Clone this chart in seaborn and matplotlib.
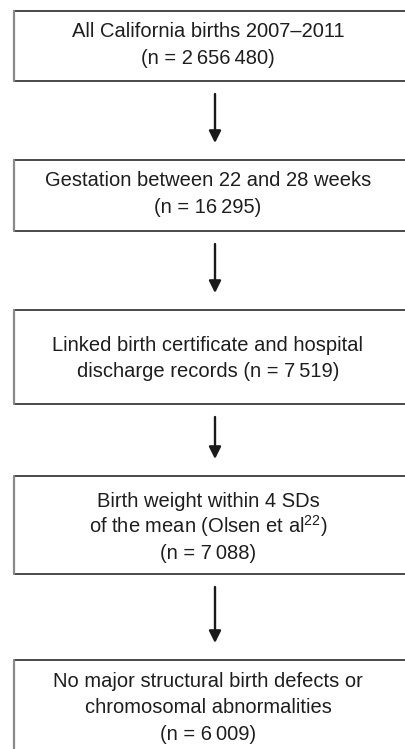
import numpy as np
import pandas as pd
import seaborn as sns
import matplotlib.pyplot as plt

# flowchart content
steps = ["All California births 2007\u20132011",
         "Gestation between 22 and 28 weeks",
         "Linked birth certificate and hospital\ndischarge records",
         "Birth weight within 4 SDs\nof the mean (Olsen et al$^{22}$)",
         "No major structural birth defects or\nchromosomal abnormalities"]
counts = [2656480, 16295, 7519, 7088, 6009]
n_inline = [False, False, True, False, False]

# layout (pixels, top-down)
box_top = [11, 160, 310, 476, 660]
box_bottom = [81, 231, 404, 574, 760]
baselines = [[37, 64], [186, 213], [351, 377], [507, 533, 559], [687, 713, 740]]
left, right, text_x, arrow_x = 14, 407, 208, 215


def fmt_n(v):
    s = "{:,}".format(v).replace(",", "\u2009")
    return "(n = {})".format(s)


sns.set_theme(style="white")
plt.rcParams["font.family"] = ["Liberation Sans", "DejaVu Sans"]
plt.rcParams["mathtext.fontset"] = "custom"
plt.rcParams["mathtext.rm"] = "Liberation Sans"
plt.rcParams["mathtext.it"] = "Liberation Sans"

fig = plt.figure(figsize=(4.05, 7.49), dpi=100)
ax = fig.add_axes([0, 0, 1, 1])
ax.set_xlim(0, 405)
ax.set_ylim(749, 0)
ax.axis("off")

for i, label in enumerate(steps):
    t, b = box_top[i], box_bottom[i]
    ax.plot([left, right], [t, t], color="#2a2a2a", lw=1.2)
    ax.plot([left, right], [b, b], color="#2a2a2a", lw=1.2)
    ax.plot([left, left], [t, b], color="#8a8a8a", lw=1.6)
    lines = label.split("\n")
    if n_inline[i]:
        lines[-1] = lines[-1] + " " + fmt_n(counts[i])
    else:
        lines.append(fmt_n(counts[i]))
    for line, y in zip(lines, baselines[i]):
        ax.text(text_x, y, line, ha="center", va="baseline", fontsize=14.5, color="#1e1e1e")
    if i < len(steps) - 1:
        ax.annotate("", xy=(arrow_x, box_top[i + 1] - 17), xytext=(arrow_x, b + 13),
                    arrowprops=dict(arrowstyle="-|>", lw=1.7, color="#1a1a1a",
                                    mutation_scale=18, shrinkA=0, shrinkB=0))

fig.savefig("out.png", dpi=100, facecolor="white")
